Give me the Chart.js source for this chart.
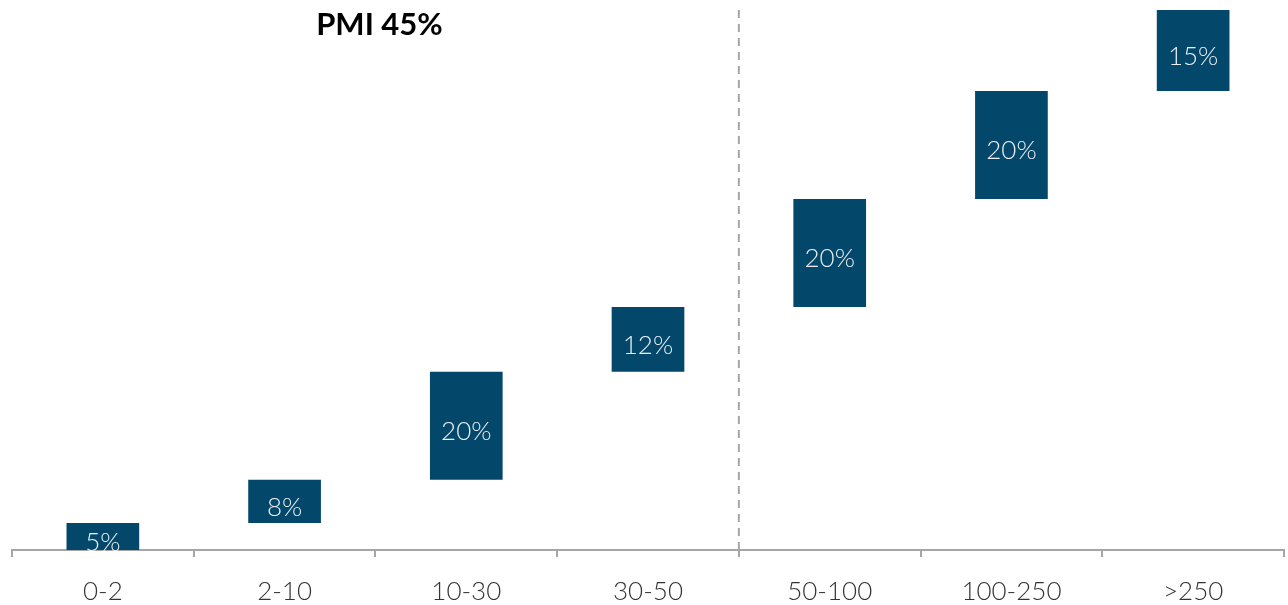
<!DOCTYPE html>
<html>
<head>
<meta charset="utf-8">
<script src="https://cdn.jsdelivr.net/npm/chart.js@4.4.1/dist/chart.umd.min.js"></script>
<style>
  html, body { margin: 0; padding: 0; background: #fff; overflow: hidden; }
  #wrap { width: 1288px; height: 605px; }
</style>
</head>
<body>
<div id="wrap"><canvas id="chart" width="1288" height="605"></canvas></div>
<script>
// categories and step values (waterfall)
const categories = ['0-2', '2-10', '10-30', '30-50', '50-100', '100-250', '>250'];
const stepValues = [5, 8, 20, 12, 20, 20, 15];
const titleText = 'PMI 45%';

// floating bars: [start, end] from running total
let running = 0;
const floating = stepValues.map(v => {
  const seg = [running, running + v];
  running += v;
  return seg;
});

const BAR_COLOR = '#03476B';
const AXIS_GRAY = '#A6A6A6';

// labels inside the bars + title + dashed separator
const extrasPlugin = {
  id: 'extras',
  beforeDatasetsDraw(chart) {
    const { ctx, chartArea, scales } = chart;
    const x = (scales.x.getPixelForValue(3) + scales.x.getPixelForValue(4)) / 2;
    ctx.save();
    ctx.strokeStyle = AXIS_GRAY;
    ctx.lineWidth = 2;
    ctx.setLineDash([8, 6]);
    ctx.beginPath();
    ctx.moveTo(x, chartArea.top);
    ctx.lineTo(x, chartArea.bottom);
    ctx.stroke();
    ctx.restore();
  },
  afterDatasetsDraw(chart) {
    const { ctx, scales } = chart;
    const meta = chart.getDatasetMeta(0);
    ctx.save();
    ctx.fillStyle = '#EAF0F4';
    ctx.font = '300 26px Lato';
    ctx.textAlign = 'center';
    ctx.textBaseline = 'middle';
    meta.data.forEach((bar, i) => {
      const yMid = (bar.y + bar.base) / 2;
      ctx.fillText(stepValues[i] + '%', bar.x, yMid + 6);
    });
    // title centred over the first four categories
    const tx = (scales.x.getPixelForValue(0) + scales.x.getPixelForValue(3)) / 2;
    ctx.fillStyle = '#000000';
    ctx.font = 'bold 31px Lato';
    ctx.fillText(titleText, tx + 4, 25);
    ctx.restore();
  }
};

new Chart(document.getElementById('chart'), {
  type: 'bar',
  data: {
    labels: categories,
    datasets: [{
      data: floating,
      backgroundColor: BAR_COLOR,
      borderWidth: 0,
      categoryPercentage: 1,
      barPercentage: 0.4
    }]
  },
  options: {
    responsive: false,
    animation: false,
    layout: { padding: { top: 10, left: 12, right: 4, bottom: 0 } },
    plugins: {
      legend: { display: false },
      tooltip: { enabled: false }
    },
    scales: {
      x: {
        afterFit(scale) { scale.height = 55; },
        grid: {
          offset: true,
          drawOnChartArea: false,
          tickLength: 7,
          lineWidth: 2,
          color: ctx => ctx.index === categories.length ? 'rgba(0,0,0,0)' : AXIS_GRAY
        },
        border: { display: true, color: AXIS_GRAY, width: 2 },
        ticks: {
          color: '#333333',
          padding: 19,
          font: { family: 'Lato', size: 26, weight: 300 }
        }
      },
      y: {
        display: false,
        min: 0,
        max: 100
      }
    }
  },
  plugins: [extrasPlugin]
});
</script>
</body>
</html>
